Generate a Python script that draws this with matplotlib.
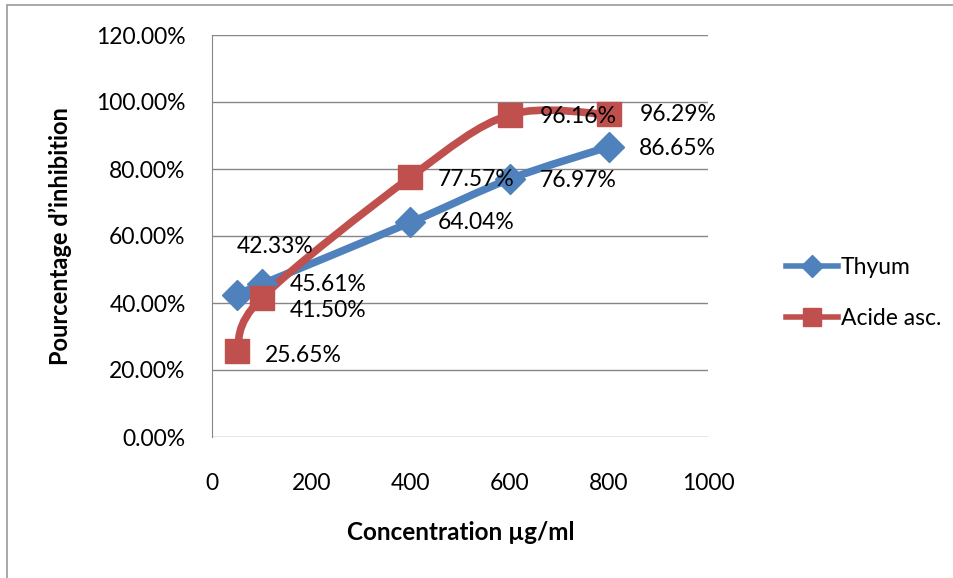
import numpy as np
import matplotlib
matplotlib.use("Agg")
import matplotlib.pyplot as plt
from matplotlib.path import Path
from matplotlib.patches import PathPatch, Rectangle
from matplotlib.lines import Line2D
from matplotlib.ticker import FuncFormatter

plt.rcParams['font.family'] = ['Lato', 'DejaVu Sans']

conc = [50, 100, 400, 600, 800]
thyum = [42.33, 45.61, 64.04, 76.97, 86.65]
acide = [25.65, 41.50, 77.57, 96.16, 96.29]
series_names = ["Thyum", "Acide asc."]

blue = '#4F81BD'
red = '#C0504D'


def smooth_path(xs, ys):
    # Excel-like smoothed line: cubic Bezier through every point
    p = np.column_stack([xs, ys]).astype(float)
    ext = np.vstack([p[0], p, p[-1]])
    verts = [p[0]]
    codes = [Path.MOVETO]
    for i in range(len(p) - 1):
        c1 = ext[i + 1] + (ext[i + 2] - ext[i]) / 6
        c2 = ext[i + 2] - (ext[i + 3] - ext[i + 1]) / 6
        verts += [c1, c2, ext[i + 2]]
        codes += [Path.CURVE4] * 3
    return Path(verts, codes)


fig = plt.figure(figsize=(9.54, 5.78), dpi=100)
ax = fig.add_axes([212/954, 1 - 437/578, (708 - 212)/954, (437 - 35)/578])

for ys, col, mk, ms in [(thyum, blue, 'D', 15), (acide, red, 's', 17)]:
    ax.add_patch(PathPatch(smooth_path(conc, ys), fill=False, edgecolor=col,
                           linewidth=5.5, capstyle='round', zorder=3))
    ax.plot(conc, ys, linestyle='none', marker=mk, markersize=ms,
            color=col, zorder=4)

# data labels (points offset from marker)
thyum_off = [(0, 35), (20, 0), (20, 0), (22, -1), (22, -1)]
acide_off = [(20, -3), (20, -9), (20, -2), (22, -1), (22, 0)]
for ys, offs in [(thyum, thyum_off), (acide, acide_off)]:
    for x, y, (dx, dy) in zip(conc, ys, offs):
        ax.annotate(f"{y:.2f}%", (x, y), xytext=(dx, dy), textcoords='offset points',
                    ha='left', va='center', fontsize=16.5, color='black', zorder=5)

ax.set_xlim(0, 1000)
ax.set_ylim(0, 120)
ax.set_xticks(np.arange(0, 1001, 200))
ax.set_yticks(np.arange(0, 121, 20))
ax.yaxis.set_major_formatter(FuncFormatter(lambda v, _: f"{v:.2f}%"))
ax.tick_params(axis='both', length=0, labelsize=16.5)
ax.tick_params(axis='y', pad=19)
ax.tick_params(axis='x', pad=26)
ax.grid(axis='y', color='#868686', linewidth=1)
ax.set_axisbelow(True)
for s in ['top', 'right', 'bottom']:
    ax.spines[s].set_visible(False)
ax.spines['left'].set_color('#868686')

fig.text(60/954, 1 - 236/578, "Pourcentage d’inhibition", rotation=90,
         ha='center', va='center', fontsize=17, fontweight='bold')
fig.text(461/954, 1 - 533/578, "Concentration µg/ml",
         ha='center', va='center', fontsize=17.5, fontweight='bold')

handles = [Line2D([], [], color=blue, linewidth=4, marker='D', markersize=11),
           Line2D([], [], color=red, linewidth=4, marker='s', markersize=13)]
fig.legend(handles, series_names, loc='center left',
           bbox_to_anchor=(765/954, 1 - 293/578), frameon=False,
           fontsize=16.5, handlelength=2.3, handletextpad=0.1, labelspacing=1.3)

fig.patches.append(Rectangle((7/954, -0.1), 2, 1.1 - 5/578, transform=fig.transFigure,
                             fill=False, edgecolor='#9a9a9a', linewidth=1.2))

fig.savefig("out.png", dpi=100)
